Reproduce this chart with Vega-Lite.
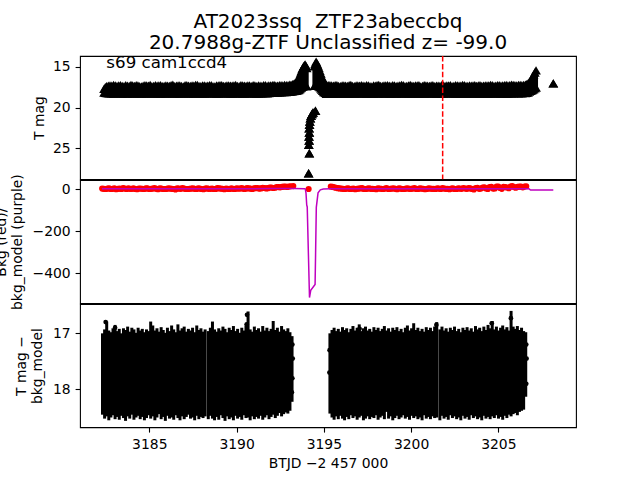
{
"$schema": "https://vega.github.io/schema/vega-lite/v6.json",
"padding": {"left": -7, "top": 11, "right": 64, "bottom": 12},
"background": "white",
"spacing": 0,
"bounds": "flush",
"config": {
  "font": "DejaVu Sans",
  "view": {"stroke": "black", "strokeWidth": 1.1},
  "axis": {"labelFont": "DejaVu Sans", "labelFontSize": 13.9, "labelColor": "#000", "titleFont": "DejaVu Sans", "titleFontSize": 13.9, "titleFontWeight": "normal", "titleColor": "#000", "tickColor": "#000", "tickWidth": 1.1, "tickSize": 4.9, "labelPadding": 4.9, "domain": false, "grid": false}
},
"datasets": {
  "band": [
    {"t":3182.41,"hi":17.7,"lo":18.15},{"t":3182.48,"hi":17.5,"lo":18.2},{"t":3182.55,"hi":17.38,"lo":18.22},{"t":3182.65,"hi":17.33,"lo":18.24},
    {"t":3182.75,"hi":17.3,"lo":18.24},{"t":3182.95,"hi":17.25,"lo":18.27},{"t":3183.15,"hi":17.35,"lo":18.22},{"t":3183.35,"hi":17.28,"lo":18.26},{"t":3183.55,"hi":17.4,"lo":18.25},{"t":3183.75,"hi":17.32,"lo":18.28},{"t":3183.95,"hi":17.24,"lo":18.23},{"t":3184.15,"hi":17.36,"lo":18.26},{"t":3184.35,"hi":17.3,"lo":18.24},{"t":3184.55,"hi":17.42,"lo":18.27},{"t":3184.75,"hi":17.27,"lo":18.25},{"t":3184.95,"hi":17.33,"lo":18.22},{"t":3185.15,"hi":17.38,"lo":18.26},{"t":3185.35,"hi":17.26,"lo":18.28},{"t":3185.55,"hi":17.31,"lo":18.24},{"t":3185.75,"hi":17.4,"lo":18.25},{"t":3185.95,"hi":17.29,"lo":18.27},{"t":3186.15,"hi":17.35,"lo":18.23},{"t":3186.35,"hi":17.22,"lo":18.26},{"t":3186.55,"hi":17.34,"lo":18.24},{"t":3186.75,"hi":17.3,"lo":18.28},{"t":3186.95,"hi":17.41,"lo":18.25},{"t":3187.15,"hi":17.27,"lo":18.22},{"t":3187.35,"hi":17.36,"lo":18.26},{"t":3187.55,"hi":17.32,"lo":18.27},{"t":3187.75,"hi":17.25,"lo":18.24},{"t":3187.95,"hi":17.38,"lo":18.25},{"t":3188.15,"hi":17.3,"lo":18.28},{"t":3188.35,"hi":17.34,"lo":18.23},{"t":3188.55,"hi":17.28,"lo":18.26},{"t":3188.75,"hi":17.43,"lo":18.24},{"t":3188.95,"hi":17.31,"lo":18.27},{"t":3189.15,"hi":17.26,"lo":18.25},{"t":3189.35,"hi":17.37,"lo":18.22},{"t":3189.55,"hi":17.3,"lo":18.26},{"t":3189.75,"hi":17.33,"lo":18.28},{"t":3189.95,"hi":17.24,"lo":18.24},{"t":3190.15,"hi":17.39,"lo":18.25},{"t":3190.35,"hi":17.29,"lo":18.27},{"t":3190.55,"hi":17.35,"lo":18.23},{"t":3190.75,"hi":17.31,"lo":18.26},{"t":3190.95,"hi":17.27,"lo":18.24},{"t":3191.15,"hi":17.4,"lo":18.28},{"t":3191.35,"hi":17.33,"lo":18.25},{"t":3191.55,"hi":17.28,"lo":18.22},{"t":3191.75,"hi":17.36,"lo":18.24},{"t":3191.95,"hi":17.3,"lo":18.2},{"t":3192.15,"hi":17.25,"lo":18.18},{"t":3192.35,"hi":17.32,"lo":18.15},{"t":3192.55,"hi":17.28,"lo":18.12},{"t":3192.75,"hi":17.24,"lo":18.1},{"t":3192.95,"hi":17.27,"lo":18.08},
    {"t":3182.85,"hi":17.34,"lo":18.25},{"t":3183.05,"hi":17.29,"lo":18.26},{"t":3183.25,"hi":17.31,"lo":18.24},{"t":3183.45,"hi":17.37,"lo":18.27},{"t":3183.65,"hi":17.27,"lo":18.26},{"t":3183.85,"hi":17.35,"lo":18.24},{"t":3184.05,"hi":17.3,"lo":18.27},{"t":3184.25,"hi":17.28,"lo":18.25},{"t":3184.45,"hi":17.39,"lo":18.26},{"t":3184.65,"hi":17.33,"lo":18.24},{"t":3184.85,"hi":17.3,"lo":18.27},{"t":3185.05,"hi":17.25,"lo":18.25},{"t":3185.25,"hi":17.36,"lo":18.26},{"t":3185.45,"hi":17.32,"lo":18.24},{"t":3185.65,"hi":17.27,"lo":18.27},{"t":3185.85,"hi":17.35,"lo":18.25},{"t":3186.05,"hi":17.33,"lo":18.26},{"t":3186.25,"hi":17.26,"lo":18.24},{"t":3186.45,"hi":17.38,"lo":18.27},{"t":3186.65,"hi":17.29,"lo":18.25},{"t":3186.85,"hi":17.36,"lo":18.26},{"t":3187.05,"hi":17.28,"lo":18.24},{"t":3187.25,"hi":17.33,"lo":18.27},{"t":3187.45,"hi":17.3,"lo":18.25},{"t":3187.65,"hi":17.25,"lo":18.26},{"t":3187.85,"hi":17.37,"lo":18.24},{"t":3188.05,"hi":17.31,"lo":18.27},{"t":3188.25,"hi":17.35,"lo":18.25},{"t":3188.45,"hi":17.28,"lo":18.26},{"t":3188.65,"hi":17.4,"lo":18.24},{"t":3188.85,"hi":17.3,"lo":18.27},{"t":3189.05,"hi":17.26,"lo":18.25},{"t":3189.25,"hi":17.36,"lo":18.26},{"t":3189.45,"hi":17.29,"lo":18.24},{"t":3189.65,"hi":17.34,"lo":18.27},{"t":3189.85,"hi":17.3,"lo":18.25},{"t":3190.05,"hi":17.37,"lo":18.26},{"t":3190.25,"hi":17.27,"lo":18.24},{"t":3190.45,"hi":17.33,"lo":18.27},{"t":3190.65,"hi":17.31,"lo":18.25},{"t":3190.85,"hi":17.38,"lo":18.26},{"t":3191.05,"hi":17.29,"lo":18.24},{"t":3191.25,"hi":17.3,"lo":18.27},{"t":3191.45,"hi":17.35,"lo":18.25},{"t":3191.65,"hi":17.26,"lo":18.23},{"t":3191.85,"hi":17.31,"lo":18.21},{"t":3192.05,"hi":17.28,"lo":18.19},{"t":3192.25,"hi":17.34,"lo":18.16},{"t":3192.45,"hi":17.27,"lo":18.13},{"t":3192.65,"hi":17.29,"lo":18.11},{"t":3192.85,"hi":17.26,"lo":18.09},{"t":3193.05,"hi":17.22,"lo":18.06},
    {"t":3193.12,"hi":17.25,"lo":18.05},{"t":3193.2,"hi":17.15,"lo":18.02},{"t":3193.28,"hi":17.1,"lo":17.98},{"t":3193.35,"hi":17.0,"lo":17.96},{"t":3193.42,"hi":16.85,"lo":17.95},{"t":3193.49,"hi":16.65,"lo":17.9},{"t":3193.55,"hi":16.45,"lo":17.85},{"t":3193.61,"hi":16.15,"lo":17.75},{"t":3193.66,"hi":15.85,"lo":17.65},{"t":3193.71,"hi":15.55,"lo":17.55},{"t":3193.76,"hi":15.3,"lo":17.45},{"t":3193.81,"hi":15.1,"lo":17.4},{"t":3193.85,"hi":14.95,"lo":17.35},{"t":3193.89,"hi":14.82,"lo":17.32},{"t":3193.93,"hi":14.72,"lo":17.3},{"t":3193.98,"hi":14.9,"lo":17.35},{"t":3194.02,"hi":15.15,"lo":17.4},{"t":3194.46,"hi":14.95,"lo":17.35},{"t":3194.51,"hi":14.65,"lo":17.3},{"t":3194.56,"hi":14.38,"lo":17.25},{"t":3194.61,"hi":14.6,"lo":17.28},{"t":3194.66,"hi":14.85,"lo":17.3},{"t":3194.72,"hi":15.15,"lo":17.4},{"t":3194.77,"hi":15.5,"lo":17.5},{"t":3194.83,"hi":15.85,"lo":17.65},{"t":3194.88,"hi":16.2,"lo":17.8},{"t":3194.94,"hi":16.55,"lo":17.95},{"t":3195.0,"hi":16.85,"lo":18.1},{"t":3195.08,"hi":17.05,"lo":18.2},{"t":3195.15,"hi":17.2,"lo":18.3},{"t":3195.25,"hi":17.26,"lo":18.3},
    {"t":3195.35,"hi":17.28,"lo":18.26},{"t":3195.55,"hi":17.33,"lo":18.3},{"t":3195.75,"hi":17.26,"lo":18.25},{"t":3195.95,"hi":17.38,"lo":18.28},{"t":3196.15,"hi":17.3,"lo":18.24},{"t":3196.35,"hi":17.35,"lo":18.27},{"t":3196.55,"hi":17.24,"lo":18.25},{"t":3196.75,"hi":17.4,"lo":18.29},{"t":3196.95,"hi":17.31,"lo":18.23},{"t":3197.15,"hi":17.27,"lo":18.26},{"t":3197.35,"hi":17.36,"lo":18.28},{"t":3197.55,"hi":17.29,"lo":18.24},{"t":3197.75,"hi":17.42,"lo":18.27},{"t":3197.95,"hi":17.33,"lo":18.25},{"t":3198.15,"hi":17.25,"lo":18.29},{"t":3198.35,"hi":17.37,"lo":18.23},{"t":3198.55,"hi":17.3,"lo":18.26},{"t":3198.75,"hi":17.34,"lo":18.28},{"t":3198.95,"hi":17.26,"lo":18.24},{"t":3199.15,"hi":17.39,"lo":18.27},{"t":3199.35,"hi":17.31,"lo":18.25},{"t":3199.55,"hi":17.28,"lo":18.22},{"t":3199.75,"hi":17.35,"lo":18.26},{"t":3199.95,"hi":17.23,"lo":18.28},{"t":3200.15,"hi":17.36,"lo":18.24},{"t":3200.35,"hi":17.3,"lo":18.27},{"t":3200.55,"hi":17.41,"lo":18.25},{"t":3200.75,"hi":17.27,"lo":18.29},{"t":3200.95,"hi":17.33,"lo":18.23},{"t":3201.15,"hi":17.29,"lo":18.26},{"t":3201.35,"hi":17.38,"lo":18.28},{"t":3201.55,"hi":17.32,"lo":18.24},{"t":3201.75,"hi":17.26,"lo":18.27},{"t":3201.95,"hi":17.35,"lo":18.25},{"t":3202.15,"hi":17.3,"lo":18.22},{"t":3202.35,"hi":17.4,"lo":18.26},{"t":3202.55,"hi":17.28,"lo":18.28},{"t":3202.75,"hi":17.34,"lo":18.24},{"t":3202.95,"hi":17.25,"lo":18.27},{"t":3203.15,"hi":17.37,"lo":18.25},{"t":3203.35,"hi":17.31,"lo":18.29},{"t":3203.55,"hi":17.29,"lo":18.23},{"t":3203.75,"hi":17.36,"lo":18.26},{"t":3203.95,"hi":17.27,"lo":18.28},{"t":3204.15,"hi":17.33,"lo":18.24},{"t":3204.35,"hi":17.3,"lo":18.27},{"t":3204.55,"hi":17.24,"lo":18.25},{"t":3204.75,"hi":17.35,"lo":18.22},{"t":3204.95,"hi":17.28,"lo":18.26},{"t":3205.15,"hi":17.32,"lo":18.28},{"t":3205.35,"hi":17.26,"lo":18.24},{"t":3205.55,"hi":17.3,"lo":18.27},{"t":3205.75,"hi":17.2,"lo":18.25},{"t":3205.95,"hi":17.28,"lo":18.23},{"t":3206.15,"hi":17.24,"lo":18.26},{"t":3206.35,"hi":17.27,"lo":18.24},{"t":3206.55,"hi":17.22,"lo":18.22},
    {"t":3195.45,"hi":17.31,"lo":18.27},{"t":3195.65,"hi":17.28,"lo":18.25},{"t":3195.85,"hi":17.35,"lo":18.28},{"t":3196.05,"hi":17.3,"lo":18.26},{"t":3196.25,"hi":17.33,"lo":18.24},{"t":3196.45,"hi":17.27,"lo":18.27},{"t":3196.65,"hi":17.37,"lo":18.25},{"t":3196.85,"hi":17.29,"lo":18.28},{"t":3197.05,"hi":17.34,"lo":18.26},{"t":3197.25,"hi":17.32,"lo":18.24},{"t":3197.45,"hi":17.26,"lo":18.27},{"t":3197.65,"hi":17.38,"lo":18.25},{"t":3197.85,"hi":17.3,"lo":18.28},{"t":3198.05,"hi":17.28,"lo":18.26},{"t":3198.25,"hi":17.35,"lo":18.24},{"t":3198.45,"hi":17.31,"lo":18.27},{"t":3198.65,"hi":17.27,"lo":18.25},{"t":3198.85,"hi":17.36,"lo":18.28},{"t":3199.05,"hi":17.3,"lo":18.26},{"t":3199.25,"hi":17.33,"lo":18.24},{"t":3199.45,"hi":17.25,"lo":18.27},{"t":3199.65,"hi":17.38,"lo":18.25},{"t":3199.85,"hi":17.29,"lo":18.28},{"t":3200.05,"hi":17.34,"lo":18.26},{"t":3200.25,"hi":17.31,"lo":18.24},{"t":3200.45,"hi":17.27,"lo":18.27},{"t":3200.65,"hi":17.36,"lo":18.25},{"t":3200.85,"hi":17.3,"lo":18.28},{"t":3201.05,"hi":17.35,"lo":18.26},{"t":3201.25,"hi":17.28,"lo":18.24},{"t":3201.45,"hi":17.33,"lo":18.27},{"t":3201.65,"hi":17.37,"lo":18.25},{"t":3201.85,"hi":17.29,"lo":18.28},{"t":3202.05,"hi":17.31,"lo":18.26},{"t":3202.25,"hi":17.26,"lo":18.24},{"t":3202.45,"hi":17.35,"lo":18.27},{"t":3202.65,"hi":17.3,"lo":18.25},{"t":3202.85,"hi":17.32,"lo":18.28},{"t":3203.05,"hi":17.28,"lo":18.26},{"t":3203.25,"hi":17.36,"lo":18.24},{"t":3203.45,"hi":17.33,"lo":18.27},{"t":3203.65,"hi":17.27,"lo":18.25},{"t":3203.85,"hi":17.3,"lo":18.28},{"t":3204.05,"hi":17.35,"lo":18.26},{"t":3204.25,"hi":17.29,"lo":18.24},{"t":3204.45,"hi":17.31,"lo":18.27},{"t":3204.65,"hi":17.26,"lo":18.25},{"t":3204.85,"hi":17.33,"lo":18.28},{"t":3205.05,"hi":17.27,"lo":18.26},{"t":3205.25,"hi":17.3,"lo":18.24},{"t":3205.45,"hi":17.25,"lo":18.27},{"t":3205.65,"hi":17.28,"lo":18.25},{"t":3205.85,"hi":17.24,"lo":18.24},{"t":3206.05,"hi":17.29,"lo":18.23},{"t":3206.25,"hi":17.23,"lo":18.22},{"t":3206.45,"hi":17.25,"lo":18.2},
    {"t":3206.62,"hi":17.15,"lo":18.18},{"t":3206.7,"hi":17.05,"lo":18.15},{"t":3206.78,"hi":16.85,"lo":18.05},{"t":3206.87,"hi":16.6,"lo":17.95},{"t":3206.95,"hi":16.3,"lo":17.85},{"t":3207.02,"hi":16.0,"lo":17.75},{"t":3207.09,"hi":15.7,"lo":17.65},{"t":3207.16,"hi":15.45,"lo":17.55},
    {"t":3194.14,"hi":24.55,"lo":24.55},{"t":3194.16,"hi":24.05,"lo":24.05},{"t":3194.15,"hi":23.55,"lo":23.55},{"t":3194.17,"hi":23.05,"lo":23.05},{"t":3194.16,"hi":22.55,"lo":22.55},{"t":3194.18,"hi":22.1,"lo":22.1},{"t":3194.2,"hi":21.7,"lo":21.7},{"t":3194.23,"hi":21.3,"lo":21.3},{"t":3194.27,"hi":21.0,"lo":21.0},{"t":3194.32,"hi":20.8,"lo":20.8},{"t":3194.38,"hi":20.6,"lo":20.6},{"t":3194.52,"hi":20.4,"lo":20.4},{"t":3194.17,"hi":25.6,"lo":25.6},{"t":3194.13,"hi":28.05,"lo":28.05},{"t":3208.15,"hi":17.04,"lo":17.04}
  ],
  "bkg": [
    {"t":3182.3,"v":2},{"t":3182.5,"v":0},{"t":3182.7,"v":3},{"t":3182.9,"v":1},{"t":3183.1,"v":-1},{"t":3183.3,"v":2},{"t":3183.5,"v":4},{"t":3183.7,"v":0},{"t":3183.9,"v":1},{"t":3184.1,"v":3},{"t":3184.3,"v":-1},{"t":3184.5,"v":2},{"t":3184.7,"v":0},{"t":3184.9,"v":3},{"t":3185.1,"v":1},{"t":3185.3,"v":4},{"t":3185.5,"v":-1},{"t":3185.7,"v":2},{"t":3185.9,"v":0},{"t":3186.1,"v":3},{"t":3186.3,"v":1},{"t":3186.5,"v":-2},{"t":3186.7,"v":2},{"t":3186.9,"v":4},{"t":3187.1,"v":0},{"t":3187.3,"v":1},{"t":3187.5,"v":3},{"t":3187.7,"v":0},{"t":3187.9,"v":2},{"t":3188.1,"v":-1},{"t":3188.3,"v":3},{"t":3188.5,"v":1},{"t":3188.7,"v":0},{"t":3188.9,"v":4},{"t":3189.1,"v":2},{"t":3189.3,"v":-1},{"t":3189.5,"v":1},{"t":3189.7,"v":3},{"t":3189.9,"v":0},{"t":3190.1,"v":2},{"t":3190.3,"v":4},{"t":3190.5,"v":1},{"t":3190.7,"v":3},{"t":3190.9,"v":0},{"t":3191.1,"v":5},{"t":3191.3,"v":2},{"t":3191.5,"v":6},{"t":3191.7,"v":3},{"t":3191.9,"v":7},{"t":3192.1,"v":5},{"t":3192.3,"v":9},{"t":3192.5,"v":8},{"t":3192.7,"v":11},{"t":3192.9,"v":10},{"t":3193.1,"v":13},{"t":3193.25,"v":14},
    {"t":3182.4,"v":1},{"t":3182.6,"v":2},{"t":3182.8,"v":0},{"t":3183.0,"v":3},{"t":3183.2,"v":1},{"t":3183.4,"v":0},{"t":3183.6,"v":2},{"t":3183.8,"v":3},{"t":3184.0,"v":1},{"t":3184.2,"v":0},{"t":3184.4,"v":2},{"t":3184.6,"v":1},{"t":3184.8,"v":3},{"t":3185.0,"v":0},{"t":3185.2,"v":2},{"t":3185.4,"v":1},{"t":3185.6,"v":3},{"t":3185.8,"v":0},{"t":3186.0,"v":1},{"t":3186.2,"v":2},{"t":3186.4,"v":0},{"t":3186.6,"v":3},{"t":3186.8,"v":1},{"t":3187.0,"v":2},{"t":3187.2,"v":0},{"t":3187.4,"v":2},{"t":3187.6,"v":1},{"t":3187.8,"v":3},{"t":3188.0,"v":0},{"t":3188.2,"v":2},{"t":3188.4,"v":1},{"t":3188.6,"v":2},{"t":3188.8,"v":0},{"t":3189.0,"v":3},{"t":3189.2,"v":1},{"t":3189.4,"v":2},{"t":3189.6,"v":0},{"t":3189.8,"v":1},{"t":3190.0,"v":3},{"t":3190.2,"v":2},{"t":3190.4,"v":1},{"t":3190.6,"v":4},{"t":3190.8,"v":2},{"t":3191.0,"v":3},{"t":3191.2,"v":4},{"t":3191.4,"v":3},{"t":3191.6,"v":5},{"t":3191.8,"v":4},{"t":3192.0,"v":7},{"t":3192.2,"v":6},{"t":3192.4,"v":9},{"t":3192.6,"v":10},{"t":3192.8,"v":12},{"t":3193.0,"v":12},
    {"t":3194.13,"v":0},
    {"t":3195.4,"v":12},{"t":3195.6,"v":8},{"t":3195.8,"v":4},{"t":3196.0,"v":2},{"t":3196.2,"v":0},{"t":3196.4,"v":3},{"t":3196.6,"v":1},{"t":3196.8,"v":-1},{"t":3197.0,"v":2},{"t":3197.2,"v":4},{"t":3197.4,"v":0},{"t":3197.6,"v":3},{"t":3197.8,"v":1},{"t":3198.0,"v":-1},{"t":3198.2,"v":2},{"t":3198.4,"v":0},{"t":3198.6,"v":4},{"t":3198.8,"v":1},{"t":3199.0,"v":3},{"t":3199.2,"v":-1},{"t":3199.4,"v":2},{"t":3199.6,"v":0},{"t":3199.8,"v":3},{"t":3200.0,"v":1},{"t":3200.2,"v":4},{"t":3200.4,"v":0},{"t":3200.6,"v":2},{"t":3200.8,"v":-1},{"t":3201.0,"v":3},{"t":3201.2,"v":1},{"t":3201.4,"v":0},{"t":3201.6,"v":2},{"t":3201.8,"v":4},{"t":3202.0,"v":1},{"t":3202.2,"v":-1},{"t":3202.4,"v":3},{"t":3202.6,"v":0},{"t":3202.8,"v":2},{"t":3203.0,"v":5},{"t":3203.2,"v":1},{"t":3203.4,"v":3},{"t":3203.6,"v":-2},{"t":3203.8,"v":6},{"t":3204.0,"v":2},{"t":3204.2,"v":8},{"t":3204.4,"v":0},{"t":3204.6,"v":10},{"t":3204.8,"v":3},{"t":3205.0,"v":12},{"t":3205.2,"v":1},{"t":3205.4,"v":9},{"t":3205.6,"v":4},{"t":3205.8,"v":14},{"t":3206.0,"v":6},{"t":3206.2,"v":11},{"t":3206.4,"v":8},{"t":3206.6,"v":13},
    {"t":3195.5,"v":10},{"t":3195.7,"v":6},{"t":3195.9,"v":3},{"t":3196.1,"v":1},{"t":3196.3,"v":2},{"t":3196.5,"v":0},{"t":3196.7,"v":2},{"t":3196.9,"v":1},{"t":3197.1,"v":3},{"t":3197.3,"v":0},{"t":3197.5,"v":2},{"t":3197.7,"v":1},{"t":3197.9,"v":0},{"t":3198.1,"v":3},{"t":3198.3,"v":1},{"t":3198.5,"v":2},{"t":3198.7,"v":0},{"t":3198.9,"v":2},{"t":3199.1,"v":1},{"t":3199.3,"v":3},{"t":3199.5,"v":0},{"t":3199.7,"v":2},{"t":3199.9,"v":1},{"t":3200.1,"v":2},{"t":3200.3,"v":0},{"t":3200.5,"v":3},{"t":3200.7,"v":1},{"t":3200.9,"v":0},{"t":3201.1,"v":2},{"t":3201.3,"v":1},{"t":3201.5,"v":3},{"t":3201.7,"v":0},{"t":3201.9,"v":2},{"t":3202.1,"v":1},{"t":3202.3,"v":2},{"t":3202.5,"v":0},{"t":3202.7,"v":3},{"t":3202.9,"v":1},{"t":3203.1,"v":2},{"t":3203.3,"v":4},{"t":3203.5,"v":0},{"t":3203.7,"v":5},{"t":3203.9,"v":1},{"t":3204.1,"v":7},{"t":3204.3,"v":3},{"t":3204.5,"v":9},{"t":3204.7,"v":2},{"t":3204.9,"v":11},{"t":3205.1,"v":5},{"t":3205.3,"v":10},{"t":3205.5,"v":7},{"t":3205.7,"v":12},{"t":3205.9,"v":9},{"t":3206.1,"v":10},{"t":3206.3,"v":11},{"t":3206.5,"v":12}
  ],
  "model": [
    {"t":3182.29,"v":1.5},{"t":3184,"v":1},{"t":3186,"v":1.5},{"t":3188,"v":1},{"t":3190,"v":1.5},{"t":3192,"v":2},{"t":3193.3,"v":3},{"t":3193.9,"v":1},{"t":3193.94,"v":0},{"t":3193.98,"v":-20},{"t":3194.02,"v":-75},{"t":3194.05,"v":-85},{"t":3194.18,"v":-514},{"t":3194.25,"v":-480},{"t":3194.5,"v":-452},{"t":3194.53,"v":-300},{"t":3194.57,"v":-87},{"t":3194.67,"v":-18},{"t":3194.8,"v":-4},{"t":3194.97,"v":0},{"t":3195.4,"v":1.5},{"t":3197,"v":1},{"t":3199,"v":1.5},{"t":3201,"v":1},{"t":3203,"v":1.5},{"t":3205,"v":1},{"t":3206.75,"v":1},{"t":3206.85,"v":-5},{"t":3208.15,"v":-5}
  ],
  "err": [
    {"t":3182.32,"hi":17.0,"lo":18.45},{"t":3182.44,"hi":16.93,"lo":18.52},{"t":3182.56,"hi":16.79,"lo":18.48},{"t":3182.68,"hi":16.95,"lo":18.55},{"t":3182.8,"hi":16.98,"lo":18.5},{"t":3182.92,"hi":16.91,"lo":18.46},{"t":3183.04,"hi":16.85,"lo":18.53},{"t":3183.16,"hi":16.96,"lo":18.49},{"t":3183.28,"hi":16.92,"lo":18.54},{"t":3183.4,"hi":17.0,"lo":18.47},{"t":3183.52,"hi":16.91,"lo":18.51},{"t":3183.64,"hi":16.94,"lo":18.56},{"t":3183.76,"hi":16.88,"lo":18.48},{"t":3183.88,"hi":16.97,"lo":18.52},{"t":3184.0,"hi":16.9,"lo":18.45},{"t":3184.12,"hi":16.93,"lo":18.54},{"t":3184.24,"hi":16.99,"lo":18.5},{"t":3184.36,"hi":16.9,"lo":18.47},{"t":3184.48,"hi":16.95,"lo":18.53},{"t":3184.6,"hi":16.92,"lo":18.49},{"t":3184.72,"hi":16.98,"lo":18.55},{"t":3184.84,"hi":16.93,"lo":18.51},{"t":3184.96,"hi":16.96,"lo":18.46},{"t":3185.08,"hi":16.79,"lo":18.52},{"t":3185.2,"hi":16.86,"lo":18.48},{"t":3185.32,"hi":16.95,"lo":18.55},{"t":3185.44,"hi":16.91,"lo":18.5},{"t":3185.56,"hi":16.97,"lo":18.44},{"t":3185.68,"hi":16.89,"lo":18.53},{"t":3185.8,"hi":16.94,"lo":18.49},{"t":3185.92,"hi":16.99,"lo":18.56},{"t":3186.04,"hi":16.9,"lo":18.47},{"t":3186.16,"hi":16.96,"lo":18.52},{"t":3186.28,"hi":16.86,"lo":18.5},{"t":3186.4,"hi":16.93,"lo":18.54},{"t":3186.52,"hi":16.98,"lo":18.46},{"t":3186.64,"hi":16.84,"lo":18.51},{"t":3186.76,"hi":16.95,"lo":18.55},{"t":3186.88,"hi":16.91,"lo":18.48},{"t":3187.0,"hi":16.88,"lo":18.53},{"t":3187.12,"hi":16.97,"lo":18.49},{"t":3187.24,"hi":16.92,"lo":18.45},{"t":3187.36,"hi":16.95,"lo":18.52},{"t":3187.48,"hi":16.9,"lo":18.5},{"t":3187.6,"hi":16.98,"lo":18.55},{"t":3187.72,"hi":16.86,"lo":18.47},{"t":3187.84,"hi":16.94,"lo":18.53},{"t":3187.96,"hi":16.91,"lo":18.49},{"t":3188.08,"hi":16.97,"lo":18.51},{"t":3188.2,"hi":16.93,"lo":18.48},
    {"t":3188.38,"hi":16.96,"lo":18.53},{"t":3188.5,"hi":16.9,"lo":18.47},{"t":3188.62,"hi":16.79,"lo":18.52},{"t":3188.74,"hi":16.93,"lo":18.55},{"t":3188.86,"hi":16.97,"lo":18.49},{"t":3188.98,"hi":16.91,"lo":18.54},{"t":3189.1,"hi":16.95,"lo":18.46},{"t":3189.22,"hi":16.88,"lo":18.51},{"t":3189.34,"hi":16.92,"lo":18.56},{"t":3189.46,"hi":16.98,"lo":18.48},{"t":3189.58,"hi":16.9,"lo":18.53},{"t":3189.7,"hi":16.94,"lo":18.5},{"t":3189.82,"hi":16.87,"lo":18.55},{"t":3189.94,"hi":16.96,"lo":18.47},{"t":3190.06,"hi":16.92,"lo":18.52},{"t":3190.18,"hi":16.99,"lo":18.49},{"t":3190.3,"hi":16.9,"lo":18.54},{"t":3190.42,"hi":16.95,"lo":18.46},{"t":3190.54,"hi":16.86,"lo":18.51},{"t":3190.66,"hi":16.61,"lo":18.5},{"t":3190.78,"hi":16.93,"lo":18.55},{"t":3190.9,"hi":16.97,"lo":18.48},{"t":3191.02,"hi":16.88,"lo":18.53},{"t":3191.14,"hi":16.94,"lo":18.49},{"t":3191.26,"hi":16.91,"lo":18.52},{"t":3191.38,"hi":16.97,"lo":18.47},{"t":3191.5,"hi":16.87,"lo":18.54},{"t":3191.62,"hi":16.95,"lo":18.5},{"t":3191.74,"hi":16.9,"lo":18.46},{"t":3191.86,"hi":16.96,"lo":18.53},{"t":3191.98,"hi":16.92,"lo":18.49},{"t":3192.1,"hi":16.78,"lo":18.45},{"t":3192.22,"hi":16.94,"lo":18.51},{"t":3192.34,"hi":16.9,"lo":18.47},{"t":3192.46,"hi":16.97,"lo":18.42},{"t":3192.58,"hi":16.87,"lo":18.48},{"t":3192.7,"hi":16.93,"lo":18.44},{"t":3192.82,"hi":16.96,"lo":18.41},{"t":3192.94,"hi":16.91,"lo":18.43},{"t":3193.06,"hi":16.98,"lo":18.38},{"t":3193.18,"hi":17.05,"lo":18.22},
    {"t":3195.35,"hi":17.0,"lo":18.43},{"t":3195.47,"hi":16.94,"lo":18.5},{"t":3195.59,"hi":16.9,"lo":18.54},{"t":3195.71,"hi":16.96,"lo":18.48},{"t":3195.83,"hi":16.92,"lo":18.53},{"t":3195.95,"hi":16.97,"lo":18.47},{"t":3196.07,"hi":16.89,"lo":18.52},{"t":3196.19,"hi":16.94,"lo":18.55},{"t":3196.31,"hi":16.91,"lo":18.49},{"t":3196.43,"hi":16.98,"lo":18.53},{"t":3196.55,"hi":16.92,"lo":18.46},{"t":3196.67,"hi":16.87,"lo":18.51},{"t":3196.79,"hi":16.95,"lo":18.48},{"t":3196.91,"hi":16.9,"lo":18.54},{"t":3197.03,"hi":16.84,"lo":18.5},{"t":3197.15,"hi":16.96,"lo":18.47},{"t":3197.27,"hi":16.91,"lo":18.55},{"t":3197.39,"hi":16.88,"lo":18.52},{"t":3197.51,"hi":16.95,"lo":18.48},{"t":3197.63,"hi":16.92,"lo":18.53},{"t":3197.75,"hi":16.97,"lo":18.49},{"t":3197.87,"hi":16.89,"lo":18.51},{"t":3197.99,"hi":16.94,"lo":18.46},{"t":3198.11,"hi":16.9,"lo":18.54},{"t":3198.23,"hi":16.96,"lo":18.5},{"t":3198.35,"hi":16.92,"lo":18.47},{"t":3198.47,"hi":16.87,"lo":18.53},{"t":3198.59,"hi":16.95,"lo":18.4},{"t":3198.71,"hi":16.91,"lo":18.52},{"t":3198.83,"hi":16.97,"lo":18.48},{"t":3198.95,"hi":16.9,"lo":18.55},{"t":3199.07,"hi":16.94,"lo":18.51},{"t":3199.19,"hi":16.89,"lo":18.47},{"t":3199.31,"hi":16.96,"lo":18.53},{"t":3199.43,"hi":16.92,"lo":18.5},{"t":3199.55,"hi":16.98,"lo":18.46},{"t":3199.67,"hi":16.9,"lo":18.52},{"t":3199.79,"hi":16.86,"lo":18.49},{"t":3199.91,"hi":16.95,"lo":18.54},{"t":3200.03,"hi":16.91,"lo":18.47},{"t":3200.15,"hi":16.82,"lo":18.51},{"t":3200.27,"hi":16.94,"lo":18.48},{"t":3200.39,"hi":16.9,"lo":18.53},{"t":3200.51,"hi":16.96,"lo":18.5},{"t":3200.63,"hi":16.92,"lo":18.55},{"t":3200.75,"hi":16.97,"lo":18.46},{"t":3200.87,"hi":16.89,"lo":18.52},{"t":3200.99,"hi":16.94,"lo":18.49},{"t":3201.11,"hi":16.9,"lo":18.53},{"t":3201.23,"hi":16.96,"lo":18.48},{"t":3201.35,"hi":16.88,"lo":18.51},{"t":3201.47,"hi":16.8,"lo":18.5},
    {"t":3201.65,"hi":16.93,"lo":18.55},{"t":3201.77,"hi":16.88,"lo":18.47},{"t":3201.89,"hi":16.95,"lo":18.52},{"t":3202.01,"hi":16.91,"lo":18.49},{"t":3202.13,"hi":16.97,"lo":18.54},{"t":3202.25,"hi":16.9,"lo":18.46},{"t":3202.37,"hi":16.94,"lo":18.51},{"t":3202.49,"hi":16.88,"lo":18.48},{"t":3202.61,"hi":16.96,"lo":18.53},{"t":3202.73,"hi":16.92,"lo":18.5},{"t":3202.85,"hi":16.98,"lo":18.55},{"t":3202.97,"hi":16.9,"lo":18.47},{"t":3203.09,"hi":16.94,"lo":18.52},{"t":3203.21,"hi":16.89,"lo":18.49},{"t":3203.33,"hi":16.95,"lo":18.54},{"t":3203.45,"hi":16.91,"lo":18.46},{"t":3203.57,"hi":16.97,"lo":18.51},{"t":3203.69,"hi":16.87,"lo":18.48},{"t":3203.81,"hi":16.93,"lo":18.53},{"t":3203.93,"hi":16.9,"lo":18.5},{"t":3204.05,"hi":16.96,"lo":18.55},{"t":3204.17,"hi":16.88,"lo":18.47},{"t":3204.29,"hi":16.94,"lo":18.52},{"t":3204.41,"hi":16.85,"lo":18.49},{"t":3204.53,"hi":16.91,"lo":18.53},{"t":3204.65,"hi":16.78,"lo":18.48},{"t":3204.77,"hi":16.93,"lo":18.51},{"t":3204.89,"hi":16.88,"lo":18.46},{"t":3205.01,"hi":16.95,"lo":18.52},{"t":3205.13,"hi":16.9,"lo":18.49},{"t":3205.25,"hi":16.86,"lo":18.54},{"t":3205.37,"hi":16.93,"lo":18.47},{"t":3205.49,"hi":16.89,"lo":18.51},{"t":3205.61,"hi":16.95,"lo":18.45},{"t":3205.73,"hi":16.6,"lo":18.48},{"t":3205.85,"hi":16.88,"lo":18.44},{"t":3205.97,"hi":16.92,"lo":18.42},{"t":3206.09,"hi":16.87,"lo":18.46},{"t":3206.21,"hi":16.94,"lo":18.4},{"t":3206.33,"hi":16.9,"lo":18.38},{"t":3206.45,"hi":16.96,"lo":18.36},{"t":3206.57,"hi":16.98,"lo":18.13}
  ],
  "dots": [
    {"t":3182.5,"m":16.8},{"t":3183.04,"m":16.9},{"t":3190.6,"m":16.67},{"t":3190.58,"m":16.84},{"t":3193.2,"m":17.2},{"t":3193.22,"m":17.45},{"t":3193.2,"m":17.8},{"t":3193.17,"m":18.05},{"t":3197.05,"m":16.92},{"t":3201.45,"m":16.85},{"t":3204.62,"m":16.82},{"t":3205.72,"m":16.73},{"t":3206.6,"m":17.2},{"t":3206.62,"m":17.45},{"t":3206.6,"m":17.9},{"t":3195.33,"m":17.3},{"t":3195.32,"m":17.7}
  ]
},
"vconcat": [
  {
    "width": 496, "height": 123.2,
    "title": {"text": ["AT2023ssq\u00a0 ZTF23abeccbq", "20.7988g-ZTF Unclassified z= -99.0"], "font": "DejaVu Sans", "fontSize": 20, "fontWeight": "normal", "color": "#000", "lineHeight": 20.4, "baseline": "top", "offset": 2.4, "anchor": "middle", "frame": "group"},
    "encoding": {"x": {"field": "t", "type": "quantitative", "scale": {"domain": [3181.03, 3209.45], "nice": false, "zero": false}, "axis": null}},
    "layer": [
      {"data": {"name": "band"}, "mark": {"type": "rule", "color": "#000", "strokeWidth": 4},
       "encoding": {"y": {"field": "hi", "type": "quantitative", "scale": {"domain": [13.69, 28.77], "reverse": true, "nice": false, "zero": false}, "axis": {"values": [15, 20, 25], "title": "T mag", "titleX": -41, "titleBaseline": "middle"}}, "y2": {"field": "lo"}}},
      {"data": {"name": "band"}, "mark": {"type": "point", "shape": "triangle-up", "filled": true, "color": "#000", "opacity": 1, "size": 95, "strokeWidth": 0},
       "encoding": {"y": {"field": "hi", "type": "quantitative", "axis": {"values": [15, 20, 25], "title": "T mag", "titleX": -41, "titleBaseline": "middle"}}}},
      {"data": {"name": "band"}, "mark": {"type": "point", "shape": "triangle-up", "filled": true, "color": "#000", "opacity": 1, "size": 95, "strokeWidth": 0},
       "encoding": {"y": {"field": "lo", "type": "quantitative", "axis": {"values": [15, 20, 25], "title": "T mag", "titleX": -41, "titleBaseline": "middle"}}}},
      {"data": {"values": [{"t": 3201.81}]}, "mark": {"type": "rule", "color": "#ff0000", "strokeWidth": 1.5, "strokeDash": [5.5, 2.4]}, "encoding": {}},
      {"data": {"values": [{"t": 3182.54, "m": 15.21, "label": "s69 cam1ccd4"}]}, "mark": {"type": "text", "align": "left", "baseline": "alphabetic", "font": "DejaVu Sans", "fontSize": 16.67, "color": "#000"},
       "encoding": {"y": {"field": "m", "type": "quantitative", "axis": {"values": [15, 20, 25], "title": "T mag", "titleX": -41, "titleBaseline": "middle"}}, "text": {"field": "label"}}}
    ]
  },
  {
    "width": 496, "height": 123.2,
    "encoding": {"x": {"field": "t", "type": "quantitative", "scale": {"domain": [3181.03, 3209.45], "nice": false, "zero": false}, "axis": null}},
    "layer": [
      {"data": {"name": "bkg"}, "mark": {"type": "circle", "color": "#ff0000", "opacity": 1, "size": 38},
       "encoding": {"y": {"field": "v", "type": "quantitative", "scale": {"domain": [-540.8, 42.7], "nice": false, "zero": false}, "axis": {"values": [0, -200, -400], "title": ["Bkg (red)/", "bkg_model (purple)"], "titleX": -79, "titleBaseline": "middle", "titleLineHeight": 16.7}}}},
      {"data": {"name": "model"}, "mark": {"type": "line", "color": "#bf00bf", "strokeWidth": 1.5},
       "encoding": {"y": {"field": "v", "type": "quantitative", "axis": {"values": [0, -200, -400], "title": ["Bkg (red)/", "bkg_model (purple)"], "titleX": -79, "titleBaseline": "middle", "titleLineHeight": 16.7}}}}
    ]
  },
  {
    "width": 496, "height": 123.2,
    "encoding": {"x": {"field": "t", "type": "quantitative", "scale": {"domain": [3181.03, 3209.45], "nice": false, "zero": false}, "axis": {"values": [3185, 3190, 3195, 3200, 3205], "format": "d", "title": "BTJD −2 457 000", "titleY": 39.8, "titleBaseline": "alphabetic"}}},
    "layer": [
      {"data": {"name": "err"}, "mark": {"type": "rule", "color": "#000", "strokeWidth": 3},
       "encoding": {"y": {"field": "hi", "type": "quantitative", "scale": {"domain": [16.477, 18.673], "reverse": true, "nice": false, "zero": false}, "axis": {"values": [17, 18], "title": ["T mag −", "bkg_model"], "titleX": -59, "titleBaseline": "middle", "titleLineHeight": 16.7}}, "y2": {"field": "lo"}}},
      {"data": {"name": "dots"}, "mark": {"type": "circle", "color": "#000", "opacity": 1, "size": 22},
       "encoding": {"y": {"field": "m", "type": "quantitative", "axis": {"values": [17, 18], "title": ["T mag −", "bkg_model"], "titleX": -59, "titleBaseline": "middle", "titleLineHeight": 16.7}}}}
    ]
  }
]
}
